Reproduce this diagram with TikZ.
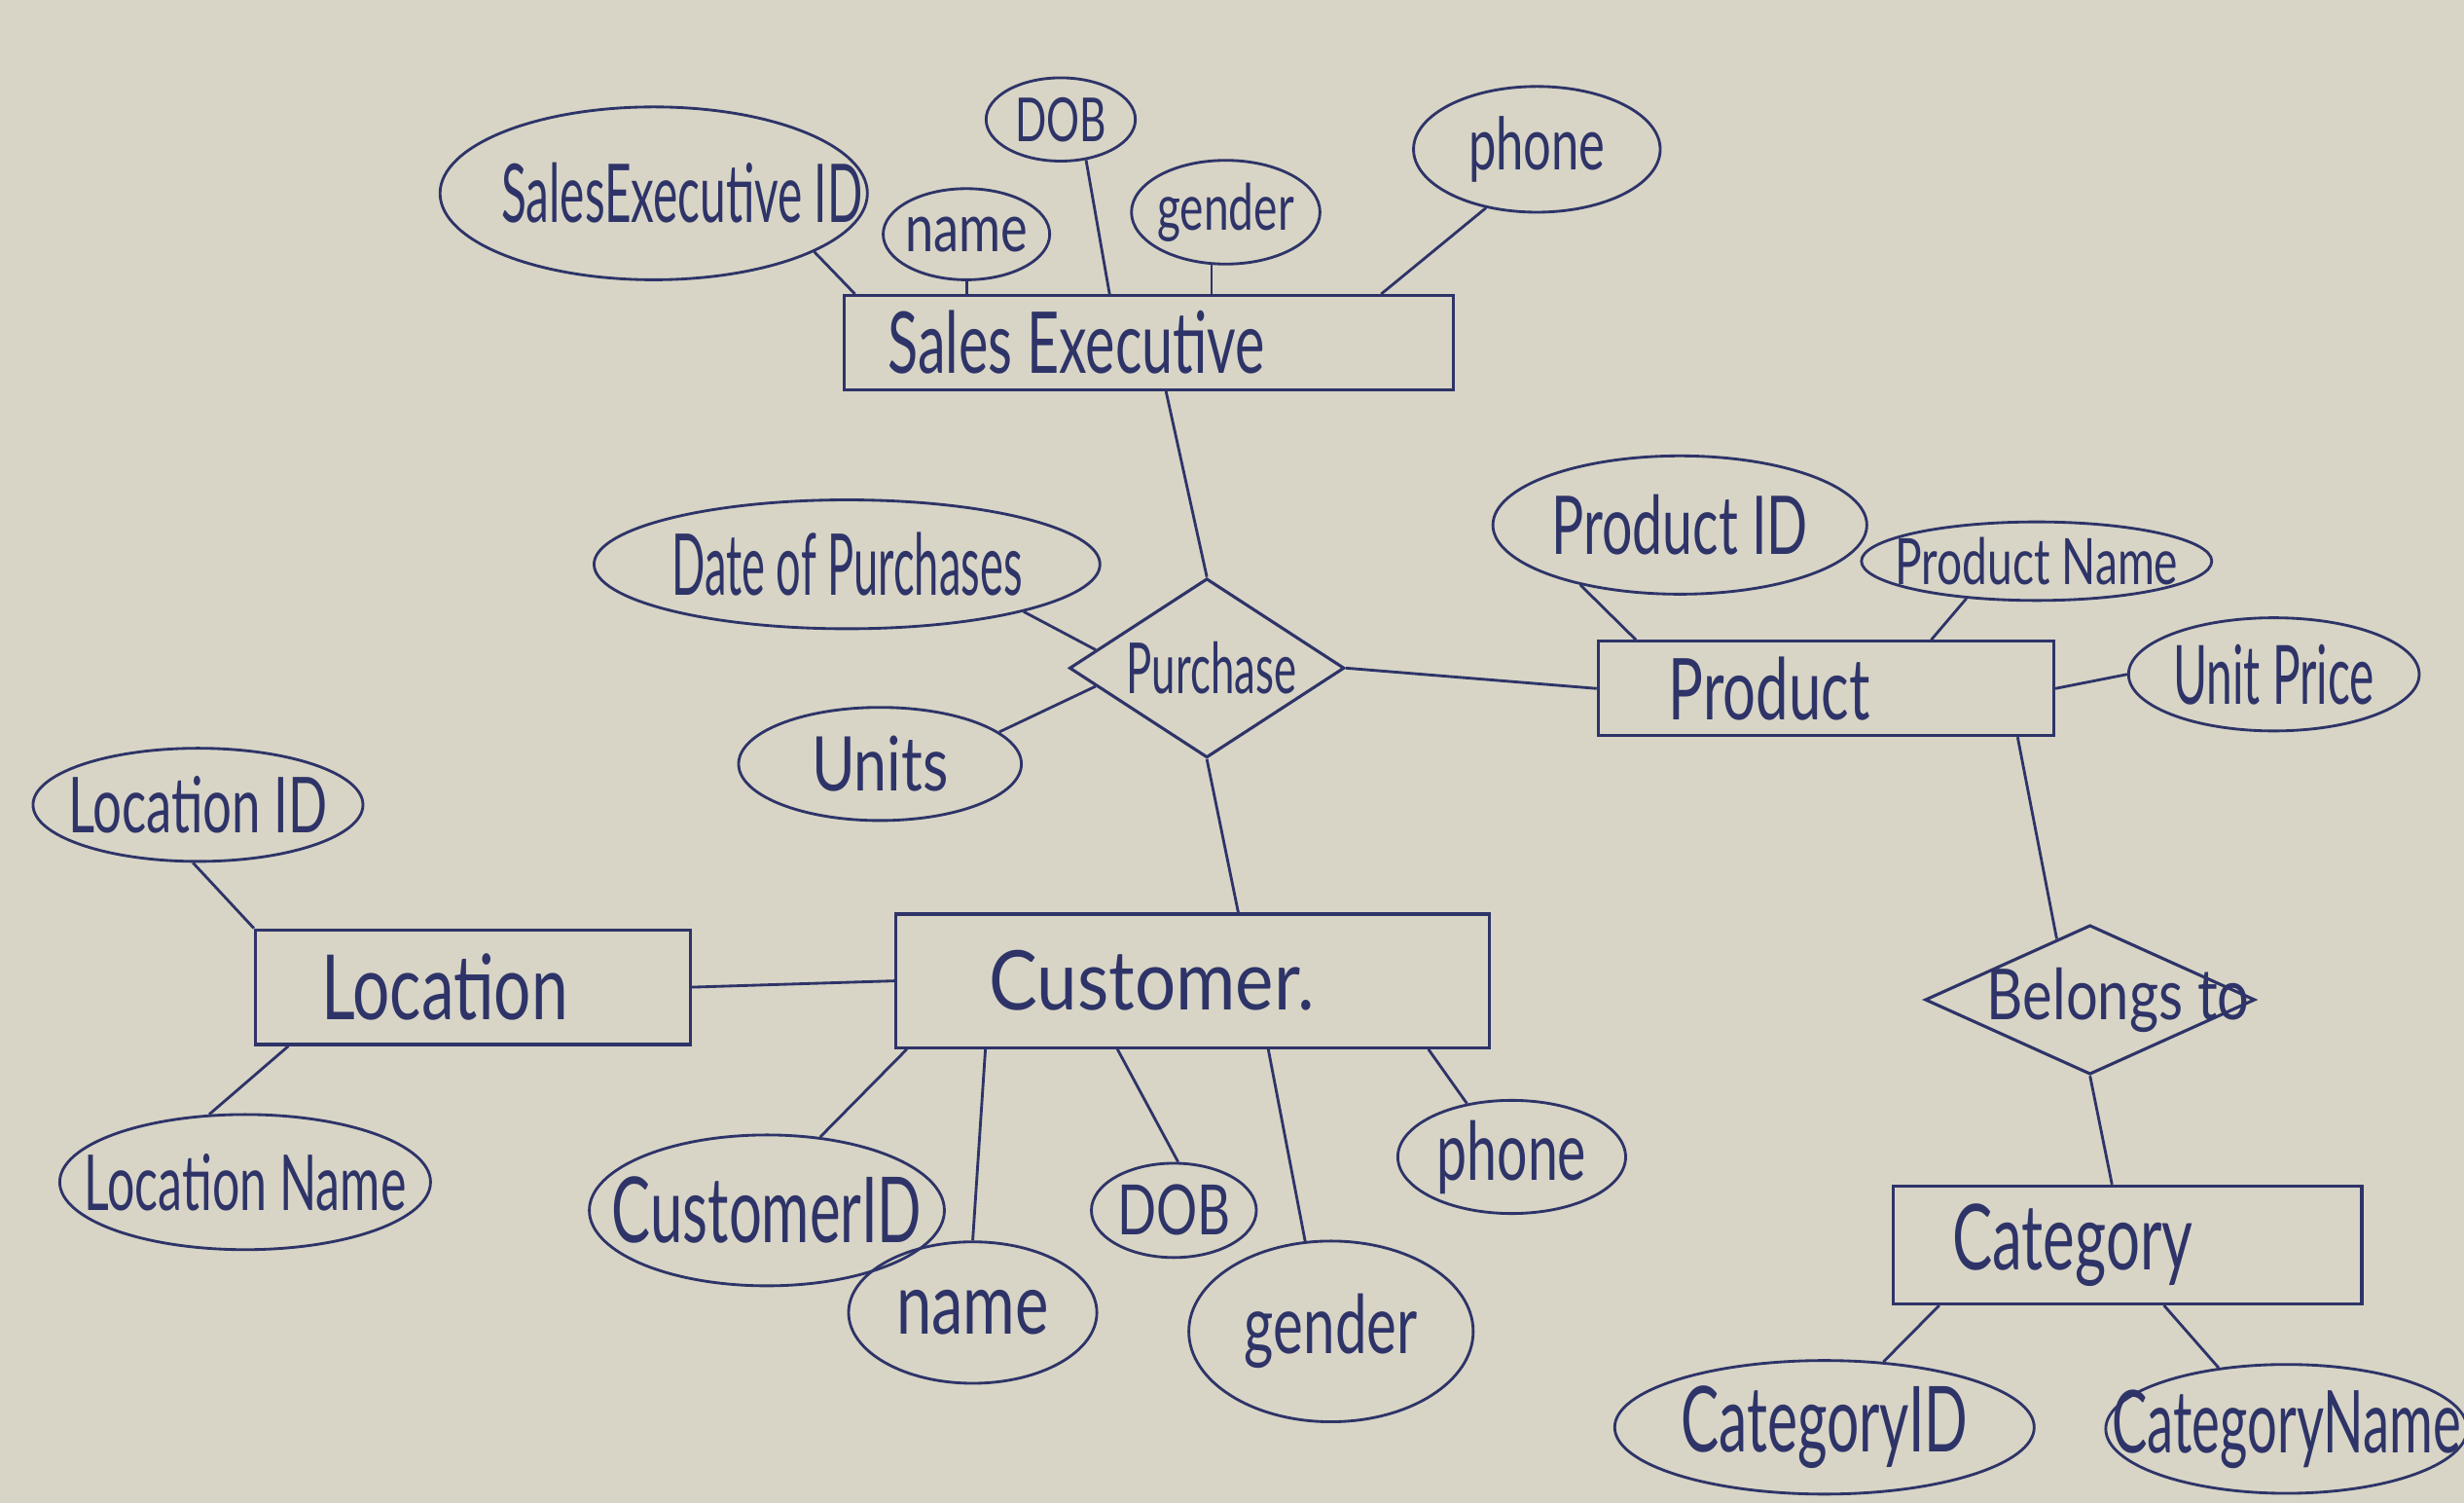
\documentclass[tikz,border=0pt]{standalone}
\usepackage{fontspec}
\setmainfont{Lato}
\usetikzlibrary{shapes.geometric,calc}
\newdimen\px \px=0.02cm
\newcommand\hw[4][0]{\makebox[0pt]{\hspace*{#1\px}\hspace*{#1\px}\resizebox{#2\px}{#3\px}{#4}}}
\definecolor{paper}{HTML}{D8D5C6}
\definecolor{ink}{HTML}{2E3468}
\begin{document}
\begin{tikzpicture}[x=0.02cm,y=-0.02cm,line width=1pt,ink,text=ink,
  ent/.style={draw,rectangle,inner sep=0pt,line width=1.1pt},
  attr/.style={draw,ellipse,inner sep=0pt},
  rel/.style={draw,diamond,inner sep=0pt,line width=1.1pt}]
\fill[paper] (0,0) rectangle (1568,956);
\useasboundingbox (0,0) rectangle (1568,956);

% entities
\node[ent,minimum width=7.76cm,minimum height=1.2cm] (se) at (731,218) {\hw[-46]{240}{40}{Sales Executive}};
\node[ent,minimum width=5.8cm,minimum height=1.2cm] (prod) at (1162,438) {\hw[-36]{128}{40}{Product}};
\node[ent,minimum width=5.54cm,minimum height=1.46cm] (loc) at (301,628) {\hw[-18]{157}{42}{Location}};
\node[ent,minimum width=7.56cm,minimum height=1.7cm] (cust) at (759,624) {\hw[-26]{207}{38}{Customer.}};
\node[ent,minimum width=5.96cm,minimum height=1.5cm] (cat) at (1354,792) {\hw[-35]{153}{42}{Category}};

% relationships
\node[rel,minimum width=3.5cm,minimum height=2.28cm] (purch) at (768,425) {\hw[3]{108}{33}{Purchase}};
\node[rel,minimum width=4.2cm,minimum height=1.9cm] (bel) at (1330,636) {\hw[18]{167}{33}{Belongs to}};

% attributes
\node[attr,minimum width=5.44cm,minimum height=2.2cm] (seid) at (416,123) {\hw[18]{230}{38}{SalesExecutive ID}};
\node[attr,minimum width=1.9cm,minimum height=1.06cm] (dob1) at (675,76) {\hw{58}{28}{DOB}};
\node[attr,minimum width=2.12cm,minimum height=1.16cm] (name1) at (615,149) {\hw{78}{22}{name}};
\node[attr,minimum width=2.4cm,minimum height=1.32cm] (gen1) at (780,135) {\hw{87}{30}{gender}};
\node[attr,minimum width=3.14cm,minimum height=1.6cm] (ph1) at (978,95) {\hw{87}{34}{phone}};
\node[attr,minimum width=6.44cm,minimum height=1.64cm] (dop) at (539,359) {\hw{223}{40}{Date of Purchases}};
\node[attr,minimum width=3.6cm,minimum height=1.44cm] (units) at (560,486) {\hw{87}{35}{Units}};
\node[attr,minimum width=4.76cm,minimum height=1.76cm] (pid) at (1069,334) {\hw{163}{38}{Product ID}};
\node[attr,minimum width=4.46cm,minimum height=1.0cm] (pname) at (1296,357) {\hw{180}{30}{Product Name}};
\node[attr,minimum width=3.7cm,minimum height=1.44cm] (uprice) at (1447,429) {\hw{128}{38}{Unit Price}};
\node[attr,minimum width=4.2cm,minimum height=1.44cm] (lid) at (126,512) {\hw{165}{36}{Location ID}};
\node[attr,minimum width=4.72cm,minimum height=1.72cm] (lname) at (156,752) {\hw{205}{36}{Location Name}};
\node[attr,minimum width=4.52cm,minimum height=1.92cm] (cid) at (488,770) {\hw{197}{42}{CustomerID}};
\node[attr,minimum width=3.16cm,minimum height=1.8cm] (cname) at (619,835) {\hw{97}{28}{name}};
\node[attr,minimum width=2.1cm,minimum height=1.2cm] (cdob) at (747,770) {\hw{72}{32}{DOB}};
\node[attr,minimum width=3.62cm,minimum height=2.3cm] (cgen) at (847,847) {\hw{110}{38}{gender}};
\node[attr,minimum width=2.9cm,minimum height=1.44cm] (cph) at (962,736) {\hw{95}{38}{phone}};
\node[attr,minimum width=5.34cm,minimum height=1.7cm] (catid) at (1161,908) {\hw{183}{42}{CategoryID}};
\node[attr,minimum width=4.6cm,minimum height=1.64cm] (catname) at (1455,909) {\hw{222}{40}{CategoryName}};

% connectors
\draw (seid.-20) -- ($(se.north west)+(8,0)$);
\draw (name1.south) -- (name1.south |- se.north);
\draw (dob1.-58) -- ($(se.north west)+(170,0)$);
\draw (gen1.-105) -- (gen1.-105 |- se.north);
\draw (ph1.-131) -- ($(se.north east)+(-47,0)$);
\draw ($(se.south)+(11,0)$) -- (purch.north);
\draw (dop.-15) -- ($(purch.west)!0.2!(purch.north)$);
\draw (units.15) -- ($(purch.west)!0.2!(purch.south)$);
\draw (purch.east) -- (prod.west);
\draw (purch.south) -- ($(cust.north)+(29,0)$);
\draw (pid.-149) -- ($(prod.north west)+(25,0)$);
\draw (pname.-152) -- ($(prod.north east)+(-79,0)$);
\draw (uprice.west) -- (prod.east);
\draw ($(prod.south east)+(-24,0)$) -- ($(bel.north)!0.2!(bel.west)$);
\draw (bel.south) -- ($(cat.north)+(-10,0)$);
\draw (lid.-95) -- (loc.north west);
\draw (lname.118) -- ($(loc.south west)+(22,0)$);
\draw (loc.east) -- (cust.west);
\draw (cid.54) -- ($(cust.south west)+(8,0)$);
\draw (cname.north) -- ($(cust.south west)+(58,0)$);
\draw (cdob.85) -- ($(cust.south west)+(142,0)$);
\draw (cgen.106) -- ($(cust.south west)+(238,0)$);
\draw (cph.130) -- ($(cust.south east)+(-40,0)$);
\draw ($(cat.south west)+(30,0)$) -- (catid.48);
\draw ($(cat.south west)+(173,0)$) -- (catname.138);
\end{tikzpicture}
\end{document}
